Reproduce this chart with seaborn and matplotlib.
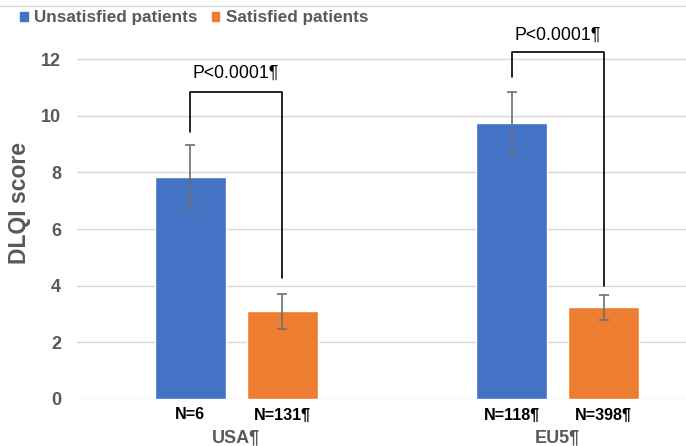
import pandas as pd
import matplotlib.pyplot as plt
import seaborn as sns
from matplotlib.patches import Patch
from matplotlib.lines import Line2D

# DLQI score by satisfaction, USA vs EU5

regions = ["USA¶", "EU5¶"]
groups = ["Unsatisfied patients", "Satisfied patients"]
unsatisfied = [7.85, 9.75]
satisfied = [3.10, 3.23]
unsatisfied_err = [1.12, 1.10]
satisfied_err = [0.62, 0.44]
n_unsatisfied = ["N=6", "N=118¶"]
n_satisfied = ["N=131¶", "N=398¶"]
p_labels = ["P<0.0001¶", "P<0.0001¶"]
# bracket annotation levels (left leg bottom, bracket top, right leg bottom, text y)
bracket_left = [9.42, 11.37]
bracket_top = [10.84, 12.25]
bracket_right = [4.28, 4.00]
p_text_y = [11.5, 12.85]

df = pd.DataFrame({
    "region": regions * 2,
    "group": [groups[0]] * 2 + [groups[1]] * 2,
    "score": unsatisfied + satisfied,
})

sns.set_style("white")
plt.rcParams["font.family"] = ["Liberation Sans", "DejaVu Sans"]

colors = ["#4472C4", "#ED7D31"]
grey = "#595959"

fig = plt.figure(figsize=(6.86, 4.46), dpi=100)
ax = fig.add_axes([0.1122, 0.1054, 0.888, 0.881])

sns.barplot(data=df, x="region", y="score", hue="group", order=regions,
            hue_order=groups, palette=colors, width=0.572, gap=0.227,
            errorbar=None, saturation=1, legend=False, ax=ax, zorder=3)

ax.set_ylim(0, 13.87)
ax.set_xlim(-0.495, 1.40)
ax.set_yticks(range(0, 13, 2))
ax.grid(axis="y", color="#d9d9d9", lw=1, zorder=0)
ax.set_axisbelow(True)
for s in ax.spines.values():
    s.set_visible(False)
ax.tick_params(axis="both", length=0, colors=grey, labelsize=13)
ax.tick_params(axis="y", pad=11.5)
ax.tick_params(axis="x", pad=21.5)
for lab in ax.get_xticklabels() + ax.get_yticklabels():
    lab.set_fontweight("bold")
ax.set_xlabel("")
ax.set_ylabel("DLQI score", fontsize=16.5, fontweight="bold", color=grey, labelpad=7)

errs = [unsatisfied_err, satisfied_err]
ns = [n_unsatisfied, n_satisfied]
centers = []
for cont, err, nl in zip(ax.containers, errs, ns):
    xs = [b.get_x() + b.get_width() / 2 for b in cont]
    hs = [b.get_height() for b in cont]
    centers.append(xs)
    ax.errorbar(xs, hs, yerr=err, fmt="none", ecolor="#707070", elinewidth=1.2,
                capsize=3.5, capthick=1.2, zorder=4)
    for x, t in zip(xs, nl):
        ax.annotate(t, (x, 0), xytext=(0, -11.5), textcoords="offset points",
                    ha="center", va="center", fontsize=11.6, fontweight="bold",
                    color="black")

for i in range(len(regions)):
    x0, x1 = centers[0][i], centers[1][i]
    ax.plot([x0, x0, x1, x1], [bracket_left[i], bracket_top[i], bracket_top[i], bracket_right[i]],
            color="black", lw=1.2, zorder=5)
    ax.text((x0 + x1) / 2, p_text_y[i], p_labels[i], ha="center", va="center",
            fontsize=12.7, color="black")

handles = [Patch(color=c) for c in colors]
fig.legend(handles, groups, loc="center left", bbox_to_anchor=(0.029, 0.960),
           ncol=2, frameon=False, handlelength=0.45, handleheight=0.45,
           handletextpad=0.4, columnspacing=0.8, borderaxespad=0, borderpad=0,
           prop={"weight": "bold", "size": 12.3})
for t in fig.legends[0].get_texts():
    t.set_color(grey)

fig.add_artist(Line2D([0, 1], [1 - 6 / 446] * 2, color="#d9d9d9", lw=1,
                      transform=fig.transFigure))

fig.savefig("out.png", dpi=100)
